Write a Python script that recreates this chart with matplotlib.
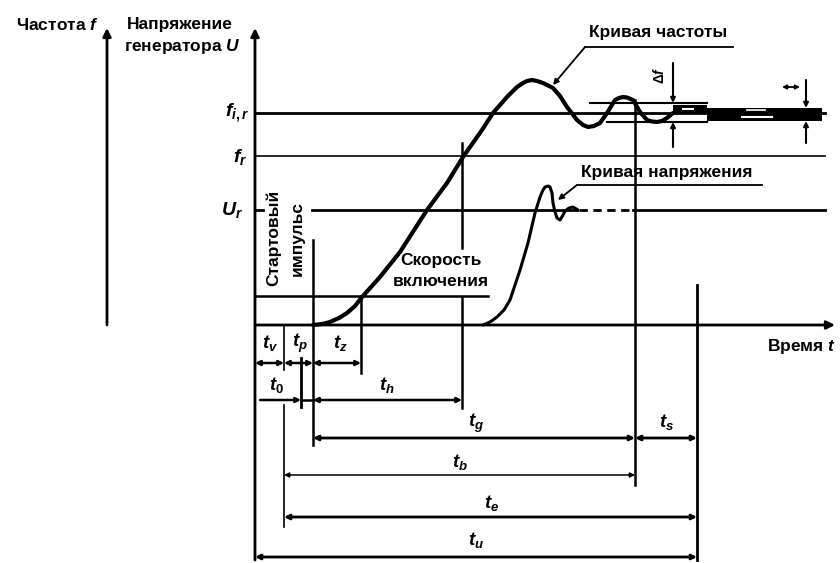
import numpy as np
import matplotlib
matplotlib.use('Agg')
import matplotlib.pyplot as plt

plt.rcParams['font.family'] = ['Liberation Sans', 'DejaVu Sans']
plt.rcParams['font.weight'] = 'bold'
plt.rcParams['mathtext.fontset'] = 'custom'
plt.rcParams['mathtext.it'] = 'Liberation Sans:italic:bold'
plt.rcParams['mathtext.rm'] = 'Liberation Sans:bold'
plt.rcParams['mathtext.bf'] = 'Liberation Sans:bold'

# Уровни (условные единицы по вертикали)
LEVEL_F_IR = 212      # f_i,r
LEVEL_F_R = 169       # f_r
LEVEL_U_R = 115       # U_r
LEVEL_SPEED = 29      # скорость включения

# Моменты времени (условные единицы по горизонтали)
T_START = 0
T_V = 29
T_O = 46
T_P = 58
T_Z = 106
T_H = 207
T_G = 380
T_S = 442

# Кривая частоты (точки)
freq_t = [58, 67, 75, 84, 92, 100, 107, 125, 145, 172, 192, 208, 227, 238, 252, 262, 268,
          272, 277, 282, 288, 298, 305, 312, 322, 328, 333, 339, 345, 352, 360, 364, 368,
          372, 378, 385, 392, 397, 402, 407, 412, 418]
freq_v = [0, 1, 3, 7, 12, 19, 28, 48, 73, 115, 142, 168, 195, 212, 228, 238, 242,
          244, 245, 244, 242, 237, 229, 218, 205, 200, 198, 199, 202, 212, 225, 227, 228,
          227.5, 225, 213, 205, 203.5, 203, 204, 207, 212]

# Кривая напряжения
volt_t = [228, 235, 242, 249, 255, 265, 273, 280, 285, 288, 290, 293, 295, 297, 298,
          300, 302, 305, 308, 310, 314, 318, 323]
volt_v = [0, 3, 8, 15, 25, 55, 82, 112, 128, 135, 138, 139, 138, 132, 122,
          113, 107, 105, 110, 114, 117, 118, 115]

# Полоса допуска частоты
band_upper = 222
band_lower = 203
band_inner_top = [220, 217]
band_inner_bot = [212, 204]

# Размерные линии: начало, конец, уровень, подпись, положение подписи, толщина
dim_start = [T_START, T_V, T_P, T_P, T_P, T_G, T_V, T_V, T_START]
dim_end = [T_V, T_P, T_Z, T_H, T_G, T_S, T_G, T_S, T_S]
dim_row = [-38, -38, -38, -75, -113, -113, -150, -192, -232]
dim_label = ['$t_v$', '$t_p$', '$t_z$', '$t_h$', '$t_g$', '$t_s$', '$t_b$', '$t_e$', '$t_u$']
dim_lx = [15, 45, 85, 132, 221, 412, 205, 237, 221]
dim_ly = [-18, -18, -18, -60, -98, -97, -137, -178, -215]
dim_lw = [1.8, 1.8, 1.8, 1.8, 2.0, 2.0, 1.1, 2.0, 2.0]

fig = plt.figure(figsize=(8.4, 5.63), dpi=100)
ax = fig.add_axes([0, 0, 1, 1])
ax.set_xlim(-255, 585)
ax.set_ylim(-238, 325)
ax.axis('off')

k = 'black'
ap_axis = dict(arrowstyle='-|>', lw=2.0, color=k, mutation_scale=12, shrinkA=0, shrinkB=0)

# Оси
ax.annotate('', xy=(-148, 297), xytext=(-148, 0), arrowprops=ap_axis)
ax.annotate('', xy=(T_START, 297), xytext=(T_START, -235), arrowprops=ap_axis)
ax.annotate('', xy=(580, 0), xytext=(T_START, 0), arrowprops=ap_axis)

# Горизонтальные уровни
ax.plot([T_START, 570], [LEVEL_F_IR, LEVEL_F_IR], color=k, lw=2.0)
ax.plot([T_START, 570], [LEVEL_F_R, LEVEL_F_R], color=k, lw=1.2)
ax.plot([T_START, 8], [LEVEL_U_R, LEVEL_U_R], color=k, lw=2.0)
ax.plot([57, 322], [LEVEL_U_R, LEVEL_U_R], color=k, lw=2.0)
ax.plot([324, 378], [LEVEL_U_R, LEVEL_U_R], color=k, lw=2.0, linestyle=(0, (3, 2)))
ax.plot([378, 570], [LEVEL_U_R, LEVEL_U_R], color=k, lw=2.0)
ax.plot([T_START, 233], [LEVEL_SPEED, LEVEL_SPEED], color=k, lw=1.8)

# Вертикальные выносные линии
ax.plot([T_V, T_V], [0, -45], color=k, lw=1.2)
ax.plot([T_V, T_V], [-80, -202], color=k, lw=1.2)
ax.plot([T_O, T_O], [-33, -82], color=k, lw=2.0)
ax.plot([T_P, T_P], [85, -120], color=k, lw=1.8)
ax.plot([T_Z, T_Z], [LEVEL_SPEED, -48], color=k, lw=1.8)
ax.plot([T_H, T_H], [182, 77], color=k, lw=1.8)
ax.plot([T_H, T_H], [27, -83], color=k, lw=1.8)
ax.plot([T_G, T_G], [225, -160], color=k, lw=1.8)
ax.plot([T_S, T_S], [40, -235], color=k, lw=2.0)

# Полоса допуска
ax.plot([335, 452], [band_upper, band_upper], color=k, lw=1.5)
ax.plot([352, 452], [band_lower, band_lower], color=k, lw=1.5)
ax.fill_between([418, 452], band_inner_bot[0], band_inner_top[0], color=k, lw=0)
ax.fill_between([452, 567], band_inner_bot[1], band_inner_top[1], color=k, lw=0)
ax.plot([428, 438], [216, 216], color='white', lw=1.5)
ax.plot([487, 517], [208, 208], color='white', lw=1.5)
ax.plot([492, 510], [215, 215], color='white', lw=1.2)

# Кривые
ax.plot(freq_t, freq_v, color=k, lw=3.0, solid_capstyle='round', solid_joinstyle='round')
ax.plot(volt_t, volt_v, color=k, lw=2.2, solid_capstyle='round', solid_joinstyle='round')

# Метки Δf
ap_small = dict(arrowstyle='-|>', lw=1.5, color=k, mutation_scale=7, shrinkA=0, shrinkB=0)
for x, top, bot, up, lo in [(418, 262, 178, band_upper, band_lower),
                           (551, 245, 182, band_inner_top[1], band_inner_bot[1])]:
    ax.annotate('', xy=(x, up), xytext=(x, top), arrowprops=ap_small)
    ax.annotate('', xy=(x, lo), xytext=(x, bot), arrowprops=ap_small)
ax.text(405, 250, r'$\Delta f$', rotation=90, ha='center', va='center', fontsize=10)
ax.annotate('', xy=(545, 238), xytext=(527, 238),
            arrowprops=dict(arrowstyle='<|-|>', lw=1.3, color=k, mutation_scale=6,
                            shrinkA=0, shrinkB=0))

# Размерные линии
for s, e, r, lab, lx, ly, lw in zip(dim_start, dim_end, dim_row, dim_label, dim_lx, dim_ly, dim_lw):
    ax.annotate('', xy=(e, r), xytext=(s, r),
                arrowprops=dict(arrowstyle='<|-|>', lw=lw, color=k, mutation_scale=7,
                                shrinkA=0, shrinkB=0))
    ax.text(lx, ly, lab, ha='center', va='center', fontsize=13.5)
# t_0
ax.annotate('', xy=(T_O, -75), xytext=(5, -75),
            arrowprops=dict(arrowstyle='-|>', lw=1.8, color=k, mutation_scale=7,
                            shrinkA=0, shrinkB=0))
ax.plot([T_O, T_P], [-75, -75], color=k, lw=1.8)
ax.text(22, -60, '$t_0$', ha='center', va='center', fontsize=13.5)

# Выноски
ax.plot([330, 478], [278, 278], color=k, lw=1.3)
ax.annotate('', xy=(298, 240), xytext=(330, 278),
            arrowprops=dict(arrowstyle='-|>', lw=1.3, color=k, mutation_scale=8,
                            shrinkA=0, shrinkB=0))
ax.plot([322, 507], [140, 140], color=k, lw=1.3)
ax.annotate('', xy=(303, 125), xytext=(322, 140),
            arrowprops=dict(arrowstyle='-|>', lw=1.3, color=k, mutation_scale=8,
                            shrinkA=0, shrinkB=0))

fs = 12.5
ax.text(403, 292, 'Кривая частоты', ha='center', va='center', fontsize=fs)
ax.text(412, 153, 'Кривая напряжения', ha='center', va='center', fontsize=fs)
ax.text(186, 65, 'Скорость', ha='center', va='center', fontsize=fs)
ax.text(186, 43, 'включения', ha='center', va='center', fontsize=fs)
ax.text(19, 87, 'Стартовый', rotation=90, ha='center', va='center', fontsize=fs)
ax.text(42, 87, 'импульс', rotation=90, ha='center', va='center', fontsize=fs)
ax.text(-198, 300, 'Частота $f$', ha='center', va='center', fontsize=fs)
ax.text(-75, 300, 'Напряжение', ha='center', va='center', fontsize=fs)
ax.text(-73, 278, 'генератора $U$', ha='center', va='center', fontsize=fs)
ax.text(581, -21, 'Время $t$', ha='right', va='center', fontsize=fs)

ax.text(-6, 212, '$f_{i,r}$', ha='right', va='center', fontsize=14)
ax.text(-8, 168, '$f_r$', ha='right', va='center', fontsize=14)
ax.text(-12, 115, '$U_r$', ha='right', va='center', fontsize=14)

fig.savefig('out.png', dpi=100)
